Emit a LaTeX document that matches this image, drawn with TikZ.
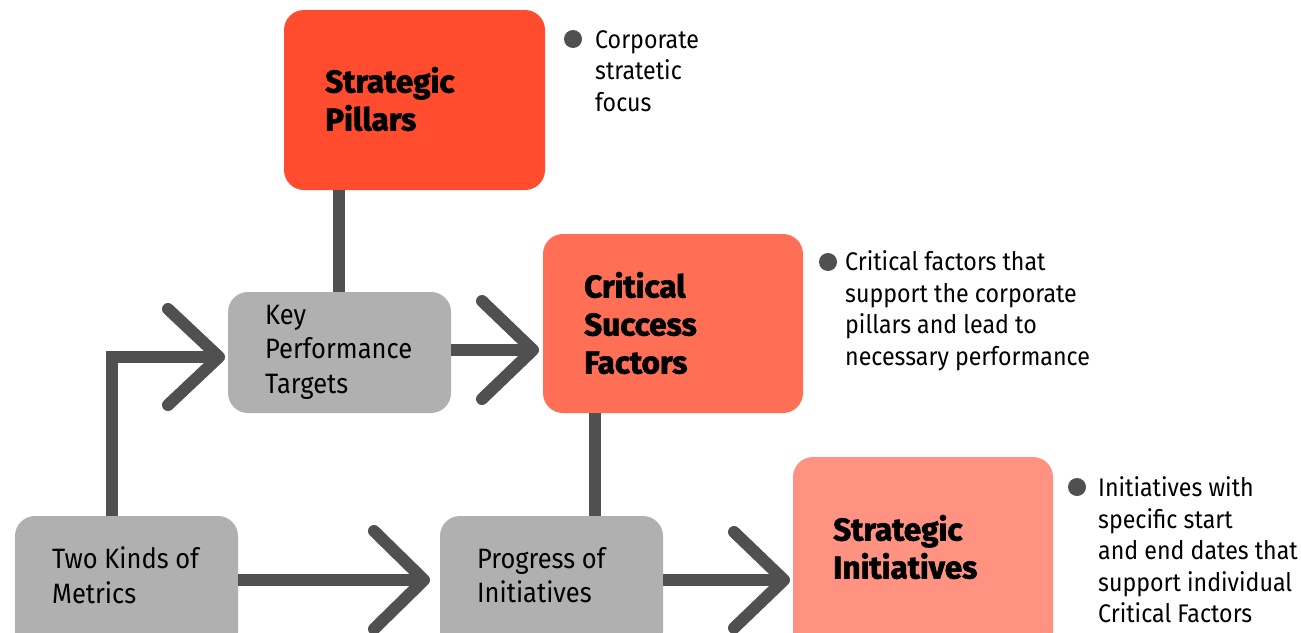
\documentclass[tikz,border=0pt]{standalone}
\usepackage{fontspec}
\usetikzlibrary{calc}
\setmainfont{Fira Sans}[FakeStretch=0.91]
\newfontfamily\headfont{Fira Sans}[BoldFeatures={FakeBold=2}]
\definecolor{cred}{HTML}{FF4B2E}
\definecolor{cmid}{HTML}{FF6F55}
\definecolor{clight}{HTML}{FF9280}
\definecolor{cgray}{HTML}{B0B0B0}
\definecolor{cline}{HTML}{505050}
\begin{document}
\begin{tikzpicture}[x=1pt,y=-1pt,
  box/.style={rounded corners=20pt,draw=none},
  head/.style={anchor=west,inner sep=0pt,align=left,font=\headfont\bfseries\fontsize{31.5}{38}\selectfont},
  gtext/.style={anchor=west,inner sep=0pt,align=left,font=\fontsize{28}{34.5}\selectfont},
  btext/.style={anchor=west,inner sep=0pt,align=left,font=\fontsize{25.5}{31.5}\selectfont},
  conn/.style={draw=cline,line width=12pt},
  chev/.style={draw=cline,line width=12pt,line cap=round,line join=round},
  dot/.style={circle,fill=cline,minimum size=18pt,inner sep=0pt}]
\useasboundingbox (0,0) rectangle (1301,632);
% boxes
\fill[box,cred] (284,10) rectangle (545,190);
\fill[box,cmid] (543,234) rectangle (803,413);
\fill[box,clight] (793,457) rectangle (1053,652);
\fill[box,cgray] (228,292) rectangle (451,413);
\fill[box,cgray] (15,516) rectangle (238,652);
\fill[box,cgray] (440,516) rectangle (663,652);
% named anchors
\coordinate (sp) at (339,190);
\coordinate (kptT) at (339,292);
\coordinate (kptR) at (451,350);
\coordinate (csfL) at (533,350);
\coordinate (csfB) at (595,413);
\coordinate (prT) at (595,516);
\coordinate (tkT) at (112,516);
\coordinate (kptL) at (219,357);
\coordinate (tkR) at (238,580);
\coordinate (prL) at (424,580);
\coordinate (prR) at (663,580);
\coordinate (siL) at (784,580);
% connectors
\draw[conn] (sp) -- (kptT);
\draw[conn] (csfB) -- (prT);
\draw[conn] (kptR) -- (csfL);
\draw[chev] ($(csfL)+(-51,-49)$) -- (csfL) -- ($(csfL)+(-51,49)$);
\draw[conn,line join=miter] (tkT) |- (kptL);
\draw[chev] ($(kptL)+(-51,-48)$) -- (kptL) -- ($(kptL)+(-51,48)$);
\draw[conn] (tkR) -- (prL);
\draw[chev] ($(prL)+(-50,-49)$) -- (prL) -- ($(prL)+(-50,49)$);
\draw[conn] (prR) -- (siL);
\draw[chev] ($(siL)+(-50,-48)$) -- (siL) -- ($(siL)+(-50,48)$);
% texts
\node[head] (t1) at (325,99) {Strategic\\Pillars};
\node[head] (t2) at (584,323) {Critical\\Success\\Factors};
\node[head] (t3) at (833,547) {Strategic\\Initiatives};
\node[gtext] (t4) at (265,352) {Key\\Performance\\Targets};
\node[gtext] (t5) at (52,575) {Two Kinds of\\Metrics};
\node[gtext] (t6) at (477,575) {Progress of\\Initiatives};
% bullets
\node[dot] (d1) at (573,39) {};
\node[btext] (b1) at (595,71) {Corporate\\stratetic\\focus};
\node[dot] (d2) at (828,262) {};
\node[btext] (b2) at (845,311) {Critical factors that\\support the corporate\\pillars and lead to\\necessary performance};
\node[dot] (d3) at (1077,487) {};
\node[btext] (b3) at (1098,550) {Initiatives with\\specific start\\and end dates that\\support individual\\Critical Factors};
\end{tikzpicture}
\end{document}
